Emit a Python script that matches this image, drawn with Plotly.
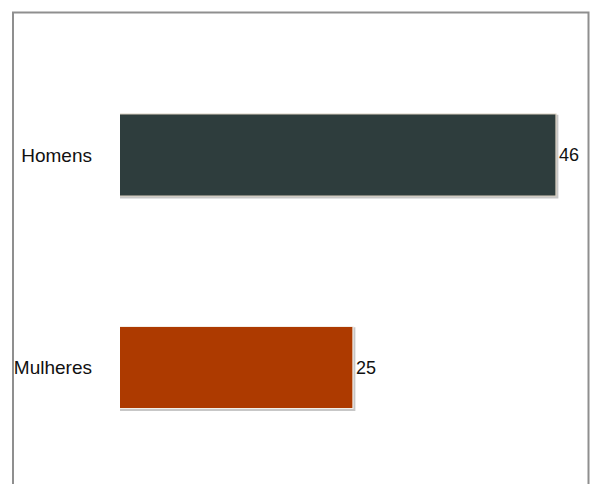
import plotly.graph_objects as go

categories = ["Mulheres", "Homens"]
values = [25, 46]
colors = ["#ad3a00", "#2e3d3d"]
outline = ["#f3eee8", "#d9cfc0"]

L, R, T, W, H = 120, 589, 13, 594, 484
px_per_unit = 9.667
zero_px = 111.3
cat_px = 212.5

fig = go.Figure()

# soft drop shadow derived from the same data
fig.add_trace(go.Bar(
    y=categories, x=[v + 0.25 for v in values], base=0, orientation="h",
    width=0.395, offset=-0.205,
    marker=dict(color="rgba(0,0,0,0.22)", line=dict(width=0)),
    hoverinfo="skip", showlegend=False,
))

fig.add_trace(go.Bar(
    y=categories, x=values, orientation="h", width=0.386,
    marker=dict(color=colors, line=dict(color=outline, width=1.2)),
    text=[str(v) for v in values], textposition="outside",
    textfont=dict(family="Liberation Sans, Arial, sans-serif", size=18, color="#111111"),
    showlegend=False,
))

x_min = (L - zero_px) / px_per_unit
x_max = (R - zero_px) / px_per_unit
y_top = 1 + (155 - T) / cat_px
y_bot = 0 - (H - 367.5) / cat_px

fig.update_layout(
    width=W, height=H,
    margin=dict(l=L, r=W - R, t=T, b=0),
    paper_bgcolor="white", plot_bgcolor="white",
    barmode="overlay",
    xaxis=dict(range=[x_min, x_max], visible=False, fixedrange=True),
    yaxis=dict(
        range=[y_bot, y_top], type="category", categoryorder="array",
        categoryarray=categories, showgrid=False, zeroline=False, showline=False,
        ticks="", ticklabelstandoff=27,
        tickfont=dict(family="Liberation Sans, Arial, sans-serif", size=19, color="#111111"),
    ),
    shapes=[dict(
        type="rect", xref="paper", yref="paper",
        x0=(13 - L) / (R - L), x1=(588.5 - L) / (R - L),
        y0=-0.05, y1=1 + 0.5 / (H - T),
        line=dict(color="#8f8f8f", width=2), layer="above",
    )],
)

fig.write_html("out.html")
